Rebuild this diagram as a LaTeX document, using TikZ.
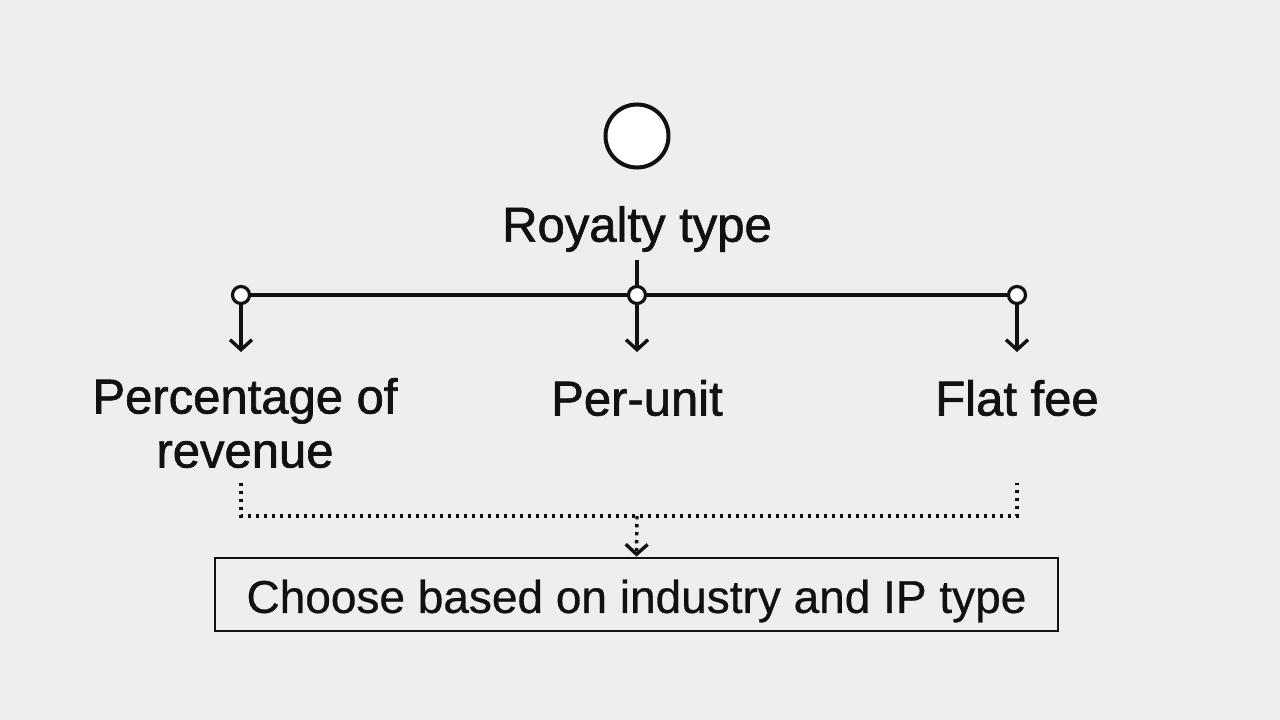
\documentclass[tikz,border=0pt]{standalone}
\usepackage{fontspec}
\setmainfont{Liberation Sans}
\newfontfamily\lblfont{Liberation Sans}[FakeBold=1.3]
\newfontfamily\boxfont{Liberation Sans}[FakeBold=0.6]
\usetikzlibrary{arrows.meta}
\definecolor{bg}{HTML}{EEEDEF}
\definecolor{ink}{HTML}{111111}
\begin{document}
\begin{tikzpicture}[x=1pt,y=-1pt,
  lbl/.style={font=\lblfont\fontsize{49}{54}\selectfont, text=ink, align=center, inner sep=0pt},
  dot/.style={circle, draw=ink, fill=white, line width=3.2pt, minimum size=17pt, inner sep=0pt},
  conn/.style={draw=ink, line width=3.2pt},
  arr/.style={conn, -{Straight Barb[length=10pt,width=22pt,line width=3.4pt]}},
  dots/.style={draw=ink, line width=3.4pt, dash pattern=on 3.4pt off 4.6pt},
  darr/.style={dots, -{Straight Barb[length=10pt,width=22pt,line width=3.4pt]}}]
\fill[bg] (0,0) rectangle (1280,720);
\useasboundingbox (0,0) rectangle (1280,720);
\node[circle, draw=ink, fill=white, line width=4pt, minimum size=63pt, inner sep=0pt] (top) at (637,136) {};
\node[lbl] (royal) at (637,229) {Royalty type};
\coordinate (rb) at (637,260);
\node[dot] (d1) at (241,295) {};
\node[dot] (d2) at (637,295) {};
\node[dot] (d3) at (1017,295) {};
\draw[conn] (rb) -- (d2.north);
\draw[conn] (d1.east) -- (d2.west);
\draw[conn] (d2.east) -- (d3.west);
\coordinate (a1) at (241,352);
\coordinate (a2) at (637,352);
\coordinate (a3) at (1017,352);
\draw[arr] (d1.south) -- (a1);
\draw[arr] (d2.south) -- (a2);
\draw[arr] (d3.south) -- (a3);
\node[lbl] (l1) at (245,423) {Percentage of\\revenue};
\node[lbl] (l2) at (637,398) {Per-unit};
\node[lbl] (l3) at (1017,398) {Flat fee};
\coordinate (p1) at (241,483);
\coordinate (q1) at (241,516);
\coordinate (p3) at (1017,483);
\coordinate (q3) at (1017,516);
\coordinate (m) at (637,516);
\node[draw=ink, line width=2.8pt, minimum width=843pt, minimum height=73pt, inner sep=0pt] (box) at (636.5,594.5) {};
\node[font=\boxfont\fontsize{46}{50}\selectfont, text=ink, inner sep=0pt] (boxtext) at (636.5,601) {Choose based on industry and IP type};
\draw[dots] (p1) -- (q1) -- (q3) -- (p3);
\draw[darr] (m) -- (box.north);
\end{tikzpicture}
\end{document}
